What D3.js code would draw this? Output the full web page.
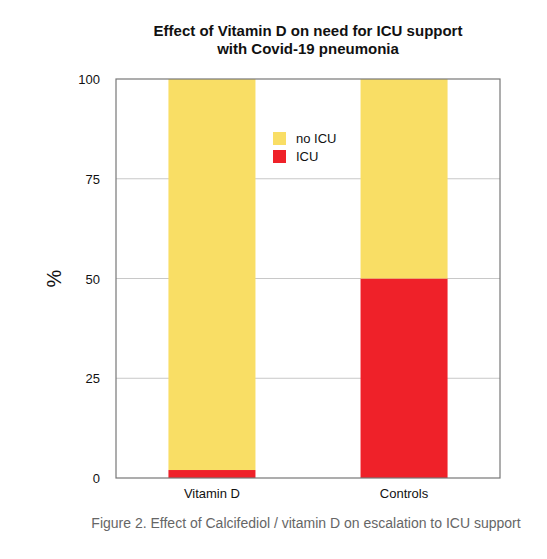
<!DOCTYPE html>
<html>
<head>
<script src="https://cdn.jsdelivr.net/npm/d3@7"></script>
<style>
body { margin: 0; background: #fff; }
text { font-family: "Liberation Sans", Arial, sans-serif; }
</style>
</head>
<body>
<script>
const groups = ["Vitamin D", "Controls"];
const icu = [2, 50];
const noIcu = [98, 50];
const yTicks = [0, 25, 50, 75, 100];
const seriesNames = ["no ICU", "ICU"];
const colors = { "no ICU": "#f9de65", "ICU": "#ef2129" };

const w = 547, h = 559;
const mLeft = 116, mRight = 500, mTop = 79, mBottom = 478;

const svg = d3.select("body").append("svg").attr("width", w).attr("height", h);

const x = d3.scaleBand().domain(groups).range([mLeft, mRight]).paddingInner(0.547).paddingOuter(0.273);
const y = d3.scaleLinear().domain([0, 100]).range([mBottom, mTop]);

// grid
svg.selectAll(".grid").data(yTicks.slice(1, -1)).enter().append("line")
  .attr("x1", mLeft).attr("x2", mRight)
  .attr("y1", d => y(d)).attr("y2", d => y(d))
  .attr("stroke", "#c8c8c8").attr("stroke-width", 1);

const table = groups.map((g, i) => ({ group: g, "ICU": icu[i], "no ICU": noIcu[i] }));
const stack = d3.stack().keys(["ICU", "no ICU"])(table);

svg.selectAll(".layer").data(stack).enter().append("g")
  .attr("fill", d => colors[d.key])
  .selectAll("rect").data(d => d).enter().append("rect")
  .attr("x", d => x(d.data.group))
  .attr("width", x.bandwidth())
  .attr("y", d => y(d[1]))
  .attr("height", d => y(d[0]) - y(d[1]));

// frame
svg.append("rect").attr("x", mLeft).attr("y", mTop)
  .attr("width", mRight - mLeft).attr("height", mBottom - mTop)
  .attr("fill", "none").attr("stroke", "#777").attr("stroke-width", 1.2);

// y labels
svg.selectAll(".yl").data(yTicks).enter().append("text")
  .attr("x", mLeft - 16).attr("y", d => y(d) + 5)
  .attr("text-anchor", "end").attr("font-size", 13).attr("fill", "#111")
  .text(d => d);

// x labels
svg.selectAll(".xl").data(groups).enter().append("text")
  .attr("x", d => x(d) + x.bandwidth() / 2).attr("y", mBottom + 20)
  .attr("text-anchor", "middle").attr("font-size", 13).attr("fill", "#111")
  .text(d => d);

svg.append("text").attr("transform", `translate(61,${(mTop + mBottom) / 2}) rotate(-90)`)
  .attr("text-anchor", "middle").attr("font-size", 20).attr("fill", "#111").text("%");

// title
const title = ["Effect of Vitamin D on need for ICU support", "with Covid-19 pneumonia"];
svg.selectAll(".title").data(title).enter().append("text")
  .attr("x", 308).attr("y", (d, i) => 36 + i * 18)
  .attr("text-anchor", "middle").attr("font-size", 15).attr("font-weight", "bold")
  .attr("fill", "#111").text(d => d);

// legend
const leg = svg.selectAll(".leg").data(seriesNames).enter().append("g")
  .attr("transform", (d, i) => `translate(273,${132 + i * 18})`);
leg.append("rect").attr("width", 13).attr("height", 13).attr("fill", d => colors[d]);
leg.append("text").attr("x", 23).attr("y", 11).attr("font-size", 13).attr("fill", "#111").text(d => d);

// caption
svg.append("text").attr("x", 306).attr("y", 528).attr("text-anchor", "middle")
  .attr("font-size", 14).attr("fill", "#666")
  .text("Figure 2. Effect of Calcifediol / vitamin D on escalation to ICU support");
</script>
</body>
</html>
